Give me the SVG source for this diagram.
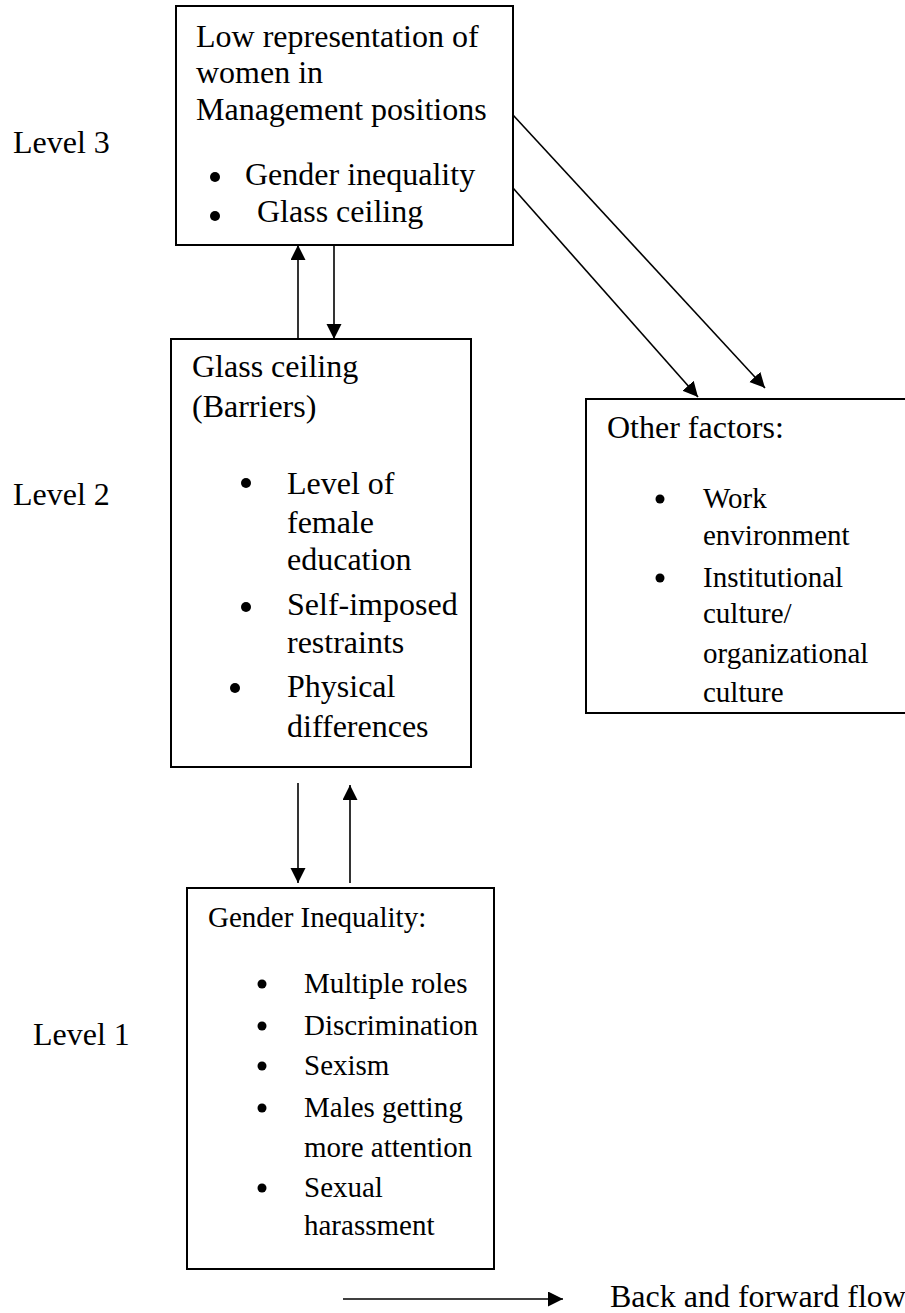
<svg xmlns="http://www.w3.org/2000/svg" width="905" height="1313" viewBox="0 0 905 1313">
<style>
  .box { fill: #ffffff; stroke: #000000; stroke-width: 2; }
  .t { font-family: "Liberation Serif", "Times New Roman", serif; font-size: 32px; fill: #000000; }
  .s { font-family: "Liberation Serif", "Times New Roman", serif; font-size: 29px; fill: #000000; }
  .conn { stroke: #000000; stroke-width: 1.6; fill: none; marker-end: url(#ah); }
  .dot { fill: #000000; }
</style>
<defs>
  <marker id="ah" markerUnits="userSpaceOnUse" markerWidth="16" markerHeight="16" refX="15" refY="7.5" orient="auto">
    <path d="M0,0 L15,7.5 L0,15 Z" fill="#000000"/>
  </marker>
</defs>
<rect width="905" height="1313" fill="#ffffff"/>

<g id="level-labels">
  <text class="t" x="13" y="153">Level 3</text>
  <text class="t" x="13" y="505">Level 2</text>
  <text class="t" x="33" y="1045">Level 1</text>
</g>

<g id="node-level3">
  <rect class="box" x="176" y="6" width="337" height="239"/>
  <text class="t" x="196" y="47">Low representation of</text>
  <text class="t" x="196" y="83">women in</text>
  <text class="t" x="196" y="120">Management positions</text>
  <circle class="dot" cx="215" cy="177" r="5"/>
  <text class="t" x="245" y="185">Gender inequality</text>
  <circle class="dot" cx="215" cy="216" r="5"/>
  <text class="t" x="257" y="222">Glass ceiling</text>
</g>

<g id="node-level2">
  <rect class="box" x="171" y="339" width="300" height="428"/>
  <text class="t" x="192" y="377">Glass ceiling</text>
  <text class="t" x="192" y="417">(Barriers)</text>
  <circle class="dot" cx="246" cy="483" r="5"/>
  <text class="t" x="287" y="494">Level of</text>
  <text class="t" x="287" y="533">female</text>
  <text class="t" x="287" y="570">education</text>
  <circle class="dot" cx="246" cy="607" r="5"/>
  <text class="t" x="287" y="615">Self-imposed</text>
  <text class="t" x="287" y="653">restraints</text>
  <circle class="dot" cx="235" cy="688" r="5"/>
  <text class="t" x="287" y="697">Physical</text>
  <text class="t" x="287" y="737">differences</text>
</g>

<g id="node-other">
  <rect class="box" x="586" y="399" width="340" height="314"/>
  <text class="t" x="607" y="438">Other factors:</text>
  <circle class="dot" cx="660" cy="499" r="4.5"/>
  <text class="s" x="703" y="508">Work</text>
  <text class="s" x="703" y="545">environment</text>
  <circle class="dot" cx="660" cy="578" r="4.5"/>
  <text class="s" x="703" y="587">Institutional</text>
  <text class="s" x="703" y="623">culture/</text>
  <text class="s" x="703" y="663">organizational</text>
  <text class="s" x="703" y="702">culture</text>
</g>

<g id="node-level1">
  <rect class="box" x="187" y="888" width="307" height="381"/>
  <text class="s" x="208" y="927">Gender Inequality:</text>
  <circle class="dot" cx="262" cy="984" r="4.5"/>
  <text class="s" x="304" y="993">Multiple roles</text>
  <circle class="dot" cx="262" cy="1026" r="4.5"/>
  <text class="s" x="304" y="1035">Discrimination</text>
  <circle class="dot" cx="262" cy="1066" r="4.5"/>
  <text class="s" x="304" y="1075">Sexism</text>
  <circle class="dot" cx="262" cy="1108" r="4.5"/>
  <text class="s" x="304" y="1117">Males getting</text>
  <text class="s" x="304" y="1157">more attention</text>
  <circle class="dot" cx="262" cy="1188" r="4.5"/>
  <text class="s" x="304" y="1197">Sexual</text>
  <text class="s" x="304" y="1235">harassment</text>
</g>

<g id="connectors">
  <line class="conn" x1="298" y1="339" x2="298" y2="245"/>
  <line class="conn" x1="334" y1="245" x2="334" y2="339"/>
  <line class="conn" x1="513" y1="115" x2="765" y2="388"/>
  <line class="conn" x1="513" y1="188" x2="698" y2="397"/>
  <line class="conn" x1="298" y1="783" x2="298" y2="883"/>
  <line class="conn" x1="350" y1="883" x2="350" y2="785"/>
</g>

<g id="legend">
  <line class="conn" x1="343" y1="1299" x2="563" y2="1299"/>
  <text class="t" x="610" y="1307">Back and forward flow</text>
</g>
</svg>
